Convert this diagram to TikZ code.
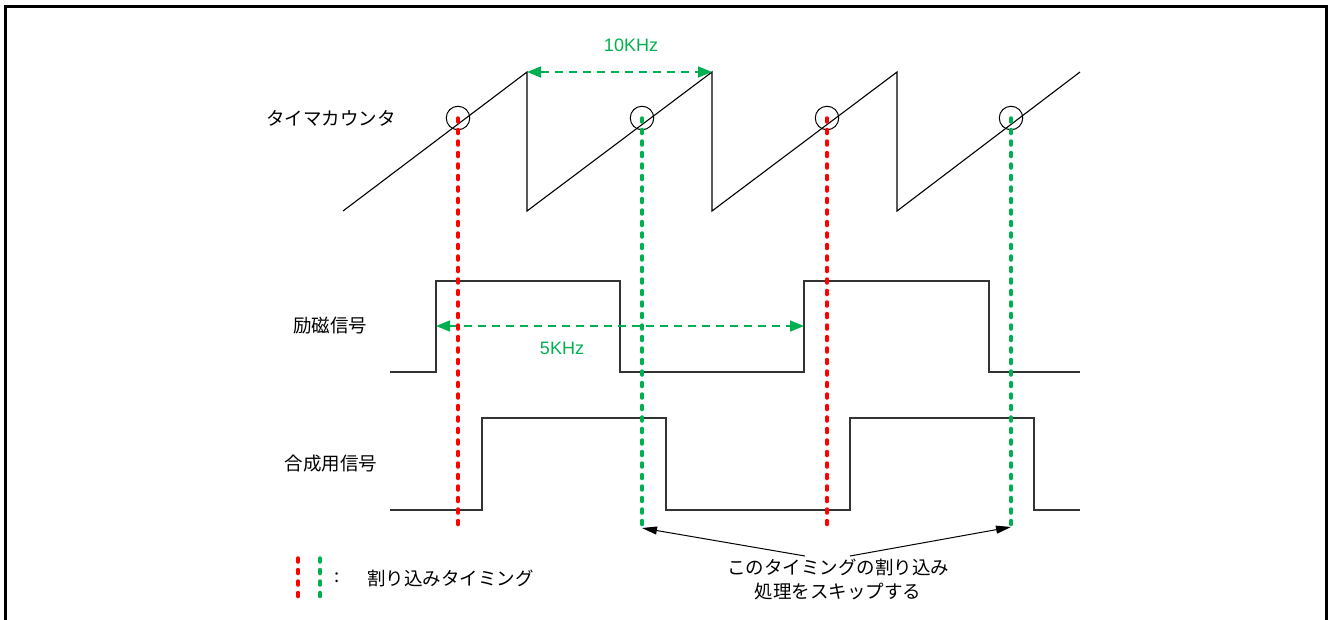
\documentclass[tikz,border=0pt]{standalone}
\usepackage{fontspec}
\setmainfont{Liberation Sans}
\newfontfamily\jp{Noto Sans CJK JP}
\usepackage{tikz}
\usetikzlibrary{arrows.meta}
\definecolor{irqRed}{RGB}{255,0,0}
\definecolor{irqGreen}{RGB}{0,176,80}

\begin{document}
\begin{tikzpicture}[x=1pt, y=-1pt,
	lbl/.style = {font=\jp\fontsize{18.5}{24}\selectfont, inner sep=0pt},
	freq/.style = {text=irqGreen, font=\fontsize{18}{20}\selectfont, inner sep=0pt},
	tcircle/.style = {draw, circle, line width=1pt, minimum size=23.5pt, inner sep=0pt},
	saw/.style = {line width=1.1pt, line join=miter},
	sig/.style = {line width=1.5pt, black!80},
	irqred/.style = {irqRed, line width=3.5pt, line cap=round, dash pattern=on 4pt off 7.5pt},
	irqgreen/.style = {irqGreen, line width=3.5pt, line cap=round, dash pattern=on 4pt off 7.5pt},
	freqarrow/.style = {irqGreen, line width=1.6pt, dash pattern=on 8pt off 6pt, {Triangle[length=14pt,width=11pt]}-{Triangle[length=14pt,width=11pt]}},
	skiparrow/.style = {line width=1pt, -{Triangle[length=15pt,width=8pt]}}]
	\useasboundingbox (0,0) rectangle (1328,619);
	% frame (open at the bottom)
	\draw[line width=3pt] (5,640) -- (5,6) -- (1326,6) -- (1326,640);

	% labels
	\node[lbl] (cnt) at (331,118) {タイマカウンタ};
	\node[lbl] (exc) at (330,326) {励磁信号};
	\node[lbl] (mix) at (331,464) {合成用信号};

	% timer counter
	\draw[saw] (343,211) -- (527,72) -- (527,211) -- (712,72) -- (712,211) -- (897,72) -- (897,211) -- (1080,72);
	\coordinate (top1) at (527,72);
	\coordinate (top2) at (712,72);
	\draw[freqarrow] (top1) -- (top2);
	\node[freq] (f10) at (631,45) {10KHz};

	% excitation signal
	\draw[sig] (390,372) -- (436,372) -- (436,281) -- (620,281) -- (620,372) -- (804,372) -- (804,281) -- (989,281) -- (989,372) -- (1080,372);
	\coordinate (e1) at (436,326);
	\coordinate (e2) at (804,326);
	\draw[freqarrow] (e1) -- (e2);
	\node[freq] (f5) at (562,348) {5KHz};

	% composite signal
	\draw[sig] (390,510) -- (482,510) -- (482,418) -- (666,418) -- (666,510) -- (850,510) -- (850,418) -- (1034,418) -- (1034,510) -- (1080,510);

	% interrupt timings
	\node[tcircle] (c1) at (458,118) {};
	\node[tcircle] (c2) at (642,118) {};
	\node[tcircle] (c3) at (827,118) {};
	\node[tcircle] (c4) at (1011,118) {};
	\coordinate (b1) at (458,530);
	\coordinate (b2) at (642,530);
	\coordinate (b3) at (827,530);
	\coordinate (b4) at (1011,530);
	\draw[irqred] (c1.center) -- (b1);
	\draw[irqgreen] (c2.center) -- (b2);
	\draw[irqred] (c3.center) -- (b3);
	\draw[irqgreen] (c4.center) -- (b4);

	% skipped timings
	\node[lbl, align=center] (skip) at (838,579) {このタイミングの割り込み\\処理をスキップする};
	\coordinate (s1) at (805,556);
	\coordinate (s2) at (850,556);
	\draw[skiparrow] (s1) -- ([yshift=2pt]b2);
	\draw[skiparrow] (s2) -- ([yshift=3pt]b4);

	% legend
	\coordinate (lr1) at (298,558);
	\coordinate (lr2) at (298,603);
	\coordinate (lg1) at (320,558);
	\coordinate (lg2) at (320,603);
	\draw[irqred] (lr1) -- (lr2);
	\draw[irqgreen] (lg1) -- (lg2);
	\node[lbl] (colon) at (337,578) {:};
	\node[lbl, anchor=west] (legend) at (367,578) {割り込みタイミング};
\end{tikzpicture}
\end{document}
